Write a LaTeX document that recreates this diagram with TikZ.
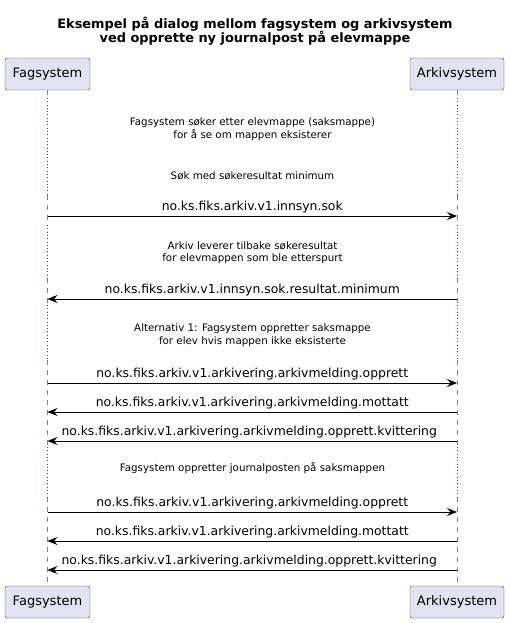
\documentclass[tikz,border=0pt]{standalone}
\usepackage{fontspec}
\setmainfont{DejaVu Sans}
\usetikzlibrary{arrows.meta}
\definecolor{partfill}{HTML}{E2E2F0}
\definecolor{partline}{HTML}{181818}
\definecolor{delayred}{HTML}{C0004A}

\begin{document}
\begin{tikzpicture}[x=1pt, y=-1pt, >={Stealth[length=10pt,width=8pt,inset=3.5pt]},
    part/.style={draw=partline!80, fill=partfill, rounded corners=2.5pt, minimum height=32pt,
        inner sep=0pt, font=\fontsize{13}{15}\selectfont},
    life/.style={draw=gray, dash pattern=on 5pt off 5pt},
    delay/.style={draw=delayred, line width=1pt, dash pattern=on 1pt off 2.3pt},
    msg/.style={->, draw=black, line width=0.8pt},
    lbl/.style={anchor=base, yshift=5.7pt, inner sep=0pt, font=\fontsize{12.4}{14}\selectfont},
    note/.style={anchor=base, inner sep=0pt, font=\fontsize{10.3}{12.7}\selectfont},
    title/.style={anchor=base, inner sep=0pt, font=\fontsize{12.9}{16}\selectfont\bfseries}]
    \useasboundingbox (0,0) rectangle (510,623);

    % title
    \node[title] (title1) at (255,28.3) {Eksempel på dialog mellom fagsystem og arkivsystem};
    \node[title] (title2) at (255,43) {ved opprette ny journalpost på elevmappe};

    % participants
    \node[part, minimum width=85pt] (fagTop) at (47.5,74) {Fagsystem};
    \node[part, minimum width=94pt] (arkTop) at (457,74) {Arkivsystem};
    \node[part, minimum width=85pt] (fagBot) at (47.5,602) {Fagsystem};
    \node[part, minimum width=94pt] (arkBot) at (457,602) {Arkivsystem};

    % lifelines, dotted where there is a delay
    \draw[life] (fagTop.south) -- (47.5,98) (47.5,195) -- (47.5,225) (47.5,278) -- (47.5,305)
        (47.5,360) -- (47.5,447) (47.5,497) -- (fagBot.north);
    \draw[delay] (47.5,98) -- (47.5,195) (47.5,225) -- (47.5,278) (47.5,305) -- (47.5,360)
        (47.5,447) -- (47.5,497);
    \draw[life] (arkTop.south) -- (457,98) (457,195) -- (457,225) (457,278) -- (457,305)
        (457,360) -- (457,447) (457,497) -- (arkBot.north);
    \draw[delay] (457,98) -- (457,195) (457,225) -- (457,278) (457,305) -- (457,360)
        (457,447) -- (457,497);

    % delay texts
    \node[note] (d1a) at (252.5,125.7) {Fagsystem søker etter elevmappe (saksmappe)};
    \node[note] (d1b) at (252.5,138.4) {for å se om mappen eksisterer};
    \node[note] (d2) at (252.5,179) {Søk med søkeresultat minimum};
    \node[note] (d3a) at (252.5,249) {Arkiv leverer tilbake søkeresultat};
    \node[note] (d3b) at (252.5,261.7) {for elevmappen som ble etterspurt};
    \node[note] (d4a) at (252.5,331) {Alternativ 1: Fagsystem oppretter saksmappe};
    \node[note] (d4b) at (252.5,344) {for elev hvis mappen ikke eksisterte};
    \node[note] (d5) at (252.5,471.7) {Fagsystem oppretter journalposten på saksmappen};

    % message ends on the lifelines
    \coordinate (f1) at (47.5,216);  \coordinate (a1) at (457,216);
    \coordinate (f2) at (47.5,299);  \coordinate (a2) at (457,299);
    \coordinate (f3) at (47.5,383);  \coordinate (a3) at (457,383);
    \coordinate (f4) at (47.5,412);  \coordinate (a4) at (457,412);
    \coordinate (f5) at (47.5,441);  \coordinate (a5) at (457,441);
    \coordinate (f6) at (47.5,512);  \coordinate (a6) at (457,512);
    \coordinate (f7) at (47.5,541);  \coordinate (a7) at (457,541);
    \coordinate (f8) at (47.5,570);  \coordinate (a8) at (457,570);

    % messages
    \draw[msg] (f1) -- (a1) node[lbl, midway] {no.ks.fiks.arkiv.v1.innsyn.sok};
    \draw[msg] (a2) -- (f2) node[lbl, midway] {no.ks.fiks.arkiv.v1.innsyn.sok.resultat.minimum};
    \draw[msg] (f3) -- (a3) node[lbl, midway] {no.ks.fiks.arkiv.v1.arkivering.arkivmelding.opprett};
    \draw[msg] (a4) -- (f4) node[lbl, midway] {no.ks.fiks.arkiv.v1.arkivering.arkivmelding.mottatt};
    \draw[msg] (a5) -- (f5) node[lbl, midway, xshift=-3pt] {no.ks.fiks.arkiv.v1.arkivering.arkivmelding.opprett.kvittering};
    \draw[msg] (f6) -- (a6) node[lbl, midway] {no.ks.fiks.arkiv.v1.arkivering.arkivmelding.opprett};
    \draw[msg] (a7) -- (f7) node[lbl, midway] {no.ks.fiks.arkiv.v1.arkivering.arkivmelding.mottatt};
    \draw[msg] (a8) -- (f8) node[lbl, midway, xshift=-3pt] {no.ks.fiks.arkiv.v1.arkivering.arkivmelding.opprett.kvittering};
\end{tikzpicture}
\end{document}
